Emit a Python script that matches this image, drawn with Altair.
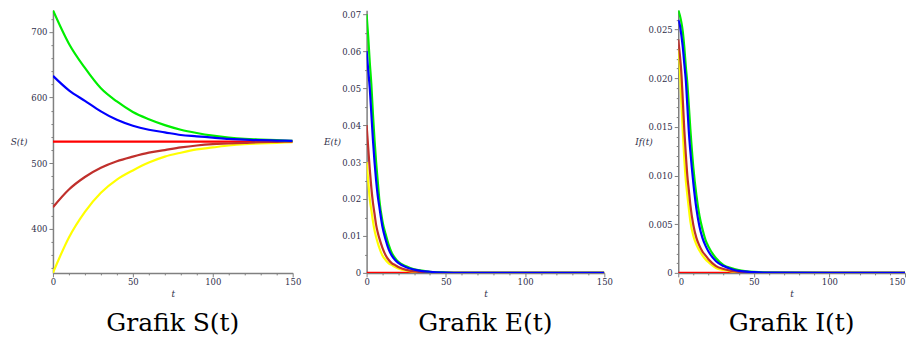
import altair as alt
import pandas as pd

# ---------------- data ----------------
SERIES = ["red", "yellow", "brown", "green", "blue"]  # drawing order
COLORS = ["#ff0000", "#ffff00", "#c0302c", "#00ee00", "#0000ff"]

T_S = [0, 10, 20, 30, 40, 50, 60, 70, 80, 90, 100, 110, 120, 130, 140, 150]
S_red = [533, 533, 533, 533, 533, 533, 533, 533, 533, 533, 533, 533, 533, 533, 533, 533]
S_yellow = [333, 387, 426, 455, 475, 489, 501, 510, 516, 521, 524, 527, 529, 530, 531, 532]
S_brown = [433, 460, 479, 493, 503, 510, 516, 520, 524, 527, 529, 530, 531, 532, 532.5, 533]
S_green = [733, 682, 645, 614, 594, 578, 567, 558, 551, 546, 542, 539, 537, 536, 535, 534]
S_blue = [633, 611, 595, 579, 566, 557, 551, 547, 543, 541, 539, 537, 536, 535, 534.5, 534]

T_EI = [0, 1, 2, 3, 4, 5, 6, 7, 8, 10, 12, 14, 16, 18, 20, 25, 30, 35, 40, 50, 60, 100, 150]
E_red = [0, 0, 0, 0, 0, 0, 0, 0, 0, 0, 0, 0, 0, 0, 0, 0, 0, 0, 0, 0, 0, 0, 0]
E_yellow = [0.030, 0.025, 0.020, 0.017, 0.014, 0.0115, 0.0097, 0.0082, 0.0068, 0.0047, 0.0035,
            0.0026, 0.0021, 0.0016, 0.0012, 0.0006, 0.0003, 0.00015, 0.00007, 0.00002, 0, 0, 0]
E_brown = [0.040, 0.034, 0.028, 0.023, 0.019, 0.016, 0.013, 0.011, 0.0094, 0.0068, 0.0048,
           0.0035, 0.0026, 0.0021, 0.0016, 0.0008, 0.0004, 0.0002, 0.0001, 0.00003, 0, 0, 0]
E_green = [0.070, 0.064, 0.057, 0.051, 0.043, 0.036, 0.030, 0.025, 0.020, 0.014, 0.0105,
           0.0075, 0.0053, 0.0040, 0.0030, 0.0018, 0.0010, 0.0006, 0.0003, 0.0001, 0.00003, 0, 0]
E_blue = [0.060, 0.055, 0.050, 0.043, 0.036, 0.030, 0.025, 0.021, 0.018, 0.0125, 0.009,
          0.0063, 0.0046, 0.0035, 0.0027, 0.0015, 0.0009, 0.0005, 0.0003, 0.0001, 0.00003, 0, 0]

I_red = [0, 0, 0, 0, 0, 0, 0, 0, 0, 0, 0, 0, 0, 0, 0, 0, 0, 0, 0, 0, 0, 0, 0]
I_yellow = [0.023, 0.021, 0.0177, 0.0145, 0.0117, 0.0095, 0.0080, 0.0066, 0.0053, 0.0038, 0.0029,
            0.0023, 0.0018, 0.0014, 0.0011, 0.0005, 0.0003, 0.00015, 0.00007, 0.00002, 0, 0, 0]
I_brown = [0.024, 0.0225, 0.0207, 0.0178, 0.0147, 0.0122, 0.0100, 0.0085, 0.0070, 0.0049, 0.0036,
           0.0028, 0.0022, 0.0018, 0.0014, 0.0007, 0.0004, 0.0002, 0.0001, 0.00003, 0, 0, 0]
I_green = [0.027, 0.0265, 0.0258, 0.0248, 0.0232, 0.0212, 0.0195, 0.0172, 0.0148, 0.0108, 0.0080,
           0.0059, 0.0045, 0.0034, 0.0027, 0.0015, 0.0008, 0.0005, 0.0003, 0.0001, 0.00003, 0, 0]
I_blue = [0.026, 0.0255, 0.0245, 0.0232, 0.0215, 0.0198, 0.0172, 0.0145, 0.0125, 0.0092, 0.0066,
          0.0048, 0.0036, 0.0028, 0.0022, 0.0012, 0.0007, 0.0004, 0.0002, 0.00007, 0.00002, 0, 0]

X_TICKS = [0, 10, 20, 30, 40, 50, 60, 70, 80, 90, 100, 110, 120, 130, 140, 150]
S_TICKS = [340, 360, 380, 400, 420, 440, 460, 480, 500, 520, 540, 560, 580, 600, 620, 640, 660, 680, 700, 720]
E_TICKS = [0, 0.005, 0.01, 0.015, 0.02, 0.025, 0.03, 0.035, 0.04, 0.045, 0.05, 0.055, 0.06, 0.065, 0.07]
I_TICKS = [i / 1000 for i in range(0, 27)]

CAPTIONS = ["Grafik S(t)", "Grafik E(t)", "Grafik I(t)"]
YTITLES = ["S(t)", "E(t)", "If(t)"]


def long_df(t, series_lists):
    rows = []
    for name, vals in zip(SERIES, series_lists):
        for tt, v in zip(t, vals):
            rows.append({"t": tt, "v": v, "s": name})
    return pd.DataFrame(rows)


dfS = long_df(T_S, [S_red, S_yellow, S_brown, S_green, S_blue])
dfE = long_df(T_EI, [E_red, E_yellow, E_brown, E_green, E_blue])
dfI = long_df(T_EI, [I_red, I_yellow, I_brown, I_green, I_blue])

SERIF = "DejaVu Serif"
TXT = "#30304a"
AX = "#808080"


def panel(df, domain, yticks, major_test, label_expr, ytitle, caption, width, flush):
    xaxis = alt.Axis(
        values=X_TICKS, labelExpr="datum.value % 50 === 0 ? datum.label : ''",
        tickSize={"condition": {"test": "datum.value % 50 === 0", "value": 4}, "value": 2},
        title="t", titleFont=SERIF, titleFontStyle="italic", titleFontWeight="normal",
        titleFontSize=9, titleColor=TXT, titlePadding=3,
        labelFont=SERIF, labelFontSize=8.5, labelColor=TXT, labelPadding=1,
        domainColor=AX, domainWidth=1.5, tickColor=AX, grid=False, labelFlush=flush,
    )
    yaxis = alt.Axis(
        values=yticks, labelExpr=label_expr,
        tickSize={"condition": {"test": major_test, "value": 4}, "value": 2},
        title=ytitle, titleFont=SERIF, titleFontStyle="italic", titleFontWeight="normal",
        titleFontSize=9, titleColor=TXT, titleAngle=0, titleAlign="right",
        titleBaseline="middle", titleY=131, titleX=-26,
        labelFont=SERIF, labelFontSize=8.5, labelColor=TXT, labelPadding=2,
        domainColor=AX, domainWidth=1.5, tickColor=AX, grid=False,
    )
    return alt.Chart(df).mark_line(strokeWidth=2.2, interpolate="monotone", clip=True).encode(
        x=alt.X("t:Q", scale=alt.Scale(domain=[0, 150], nice=False, zero=False), axis=xaxis),
        y=alt.Y("v:Q", scale=alt.Scale(domain=domain, nice=False, zero=False), axis=yaxis),
        color=alt.Color("s:N", scale=alt.Scale(domain=SERIES, range=COLORS), legend=None),
    ).properties(
        width=width, height=263,
        title=alt.TitleParams(caption, orient="bottom", anchor="middle", frame="group",
                              font=SERIF, fontSize=25, fontWeight="normal",
                              color="#000000", offset=13),
    )


pS = panel(dfS, [333, 733], S_TICKS, "datum.value % 100 === 0",
           "datum.value % 100 === 0 ? datum.label : ''", YTITLES[0], CAPTIONS[0], 240, False)
pE = panel(dfE, [0, 0.0711], E_TICKS,
           "abs(datum.value*100 - round(datum.value*100)) < 1e-6",
           "abs(datum.value*100 - round(datum.value*100)) < 1e-6 ? (datum.value === 0 ? '0' : format(datum.value, '.2f')) : ''",
           YTITLES[1], CAPTIONS[1], 238, False)
pI = panel(dfI, [0, 0.027], I_TICKS,
           "abs(datum.value*200 - round(datum.value*200)) < 1e-6",
           "abs(datum.value*200 - round(datum.value*200)) < 1e-6 ? (datum.value === 0 ? '0' : format(datum.value, '.3f')) : ''",
           YTITLES[2], CAPTIONS[2], 227, 2)

chart = alt.hconcat(pS, pE, pI, spacing=74, bounds="flush").properties(
    padding={"left": 2, "top": 2, "right": 0, "bottom": 0}
).configure_view(stroke=None)

chart.save("out.html", embed_options={"renderer": "svg", "actions": False})
